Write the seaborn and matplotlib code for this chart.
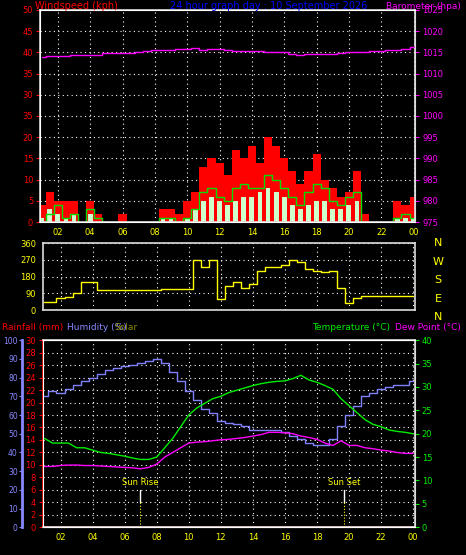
import numpy as np
import matplotlib
matplotlib.use("Agg")
import matplotlib.pyplot as plt
import seaborn as sns

# half-hour grid 1.0 .. 24.0
hours = np.arange(1.0, 24.01, 0.5)

gust = [4, 7, 5, 5, 5, 0, 5, 2, 0, 0, 2, 0, 0, 0, 0, 3, 3, 2, 5, 7, 13, 15, 14, 11,
        17, 15, 18, 14, 20, 18, 15, 12, 9, 12, 16, 10, 8, 6, 7, 12, 2, 0, 0, 0, 5, 4, 6]
speed = [1, 3, 2, 1, 2, 0, 2, 0, 0, 0, 0, 0, 0, 0, 0, 1, 1, 0, 1, 3, 5, 6, 5, 4,
         5, 6, 6, 7, 8, 7, 6, 4, 3, 4, 5, 5, 3, 3, 4, 5, 0, 0, 0, 0, 1, 1, 1]
avg_wind = [0, 2, 4, 1, 2, 0, 3, 1, 0, 0, 0, 0, 0, 0, 0, 1, 1, 0, 1, 3, 7, 8, 6, 5,
            8, 9, 8, 8, 11, 10, 8, 6, 4, 7, 9, 8, 5, 4, 6, 7, 0, 0, 0, 0, 1, 2, 1]
baro = [1014.0, 1014.1, 1014.2, 1014.2, 1014.3, 1014.3, 1014.3, 1014.5, 1014.8, 1014.8, 1014.8,
        1014.9, 1015.1, 1015.3, 1015.5, 1015.6, 1015.6, 1015.8, 1015.9, 1016.0, 1015.6, 1015.7,
        1015.7, 1015.6, 1015.4, 1015.4, 1015.4, 1015.3, 1015.2, 1015.1, 1015.0, 1014.7, 1014.5,
        1014.6, 1014.7, 1014.7, 1014.7, 1014.8, 1015.0, 1015.1, 1015.1, 1015.3, 1015.4, 1015.5,
        1015.5, 1015.8, 1016.2]
wind_dir = [45, 45, 65, 70, 90, 150, 150, 110, 110, 110, 110, 110, 110, 110, 110, 115, 115,
            115, 115, 270, 230, 270, 60, 130, 150, 120, 140, 210, 230, 230, 240, 270, 260,
            220, 210, 205, 210, 120, 40, 65, 75, 75, 75, 75, 75, 75, 75]
humidity = [70, 73, 72, 74, 76, 78, 80, 82, 84, 85, 86, 87, 88, 89, 90, 88, 83, 78, 73, 68,
            63, 61, 57, 56, 55, 54, 52, 52, 52, 52, 51, 49, 47, 45, 44, 44, 47, 54, 60, 65,
            70, 72, 74, 75, 76, 76, 78]
temperature = [19, 18, 18, 18, 17, 17, 16.5, 16, 15.8, 15.5, 15.2, 14.8, 14.5, 14.5, 15, 17,
               19, 21.5, 24, 25.5, 26.5, 27.5, 28, 28.8, 29.3, 29.8, 30.3, 30.7, 31, 31.2,
               31.3, 31.8, 32.5, 31.5, 31, 30.3, 29.5, 27.5, 26, 24.5, 23, 22, 21.5, 20.8,
               20.5, 20.3, 20]
dew_point = [13, 13, 13.2, 13.3, 13.3, 13.2, 13.2, 13.1, 13.0, 12.9, 12.8, 12.7, 12.5, 12.8,
             13.5, 15, 16, 17, 18, 18.2, 18.3, 18.5, 18.7, 18.8, 19, 19.2, 19.5, 19.8, 20.3,
             20.3, 20.2, 20, 19.5, 19.2, 18.8, 18, 17.5, 18.5, 17.5, 17.5, 17, 16.8, 16.5,
             16.3, 16, 15.8, 15.8]
rainfall = [0] * len(hours)
sunrise, sunset = 6.95, 19.7
xticks = list(range(2, 25, 2))
xlabels = [f"{h % 24:02d}" for h in xticks]

sns.set_style("dark")
plt.rcParams["font.family"] = ["DejaVu Sans"]
plt.rcParams["font.size"] = 6

fig = plt.figure(figsize=(4.66, 5.55), dpi=100, facecolor="black")


def style(ax):
    ax.set_facecolor("black")
    ax.set_xlim(0.9, 24.1)
    ax.grid(True, color="white", linestyle=(0, (1, 3)), linewidth=0.8)
    for s in ax.spines.values():
        s.set_color("#dddddd")
        s.set_linewidth(1.2)
    ax.set_xticks(xticks)
    ax.set_xticklabels(xlabels, color="yellow")
    ax.tick_params(axis="x", colors="white", labelcolor="yellow", length=2, pad=2)


# ---- wind / barometer panel
ax1 = fig.add_axes([0.086, 0.6, 0.805, 0.382])
style(ax1)
ax1.bar(hours, gust, width=0.5, color="red", align="center", linewidth=0)
ax1.bar(hours, speed, width=0.3, color="#ccffcc", align="center", linewidth=0)
sns.lineplot(x=hours, y=avg_wind, ax=ax1, color="#00dd00", linewidth=1, drawstyle="steps-mid")
ax1.set_ylim(0, 50)
ax1.set_yticks(range(0, 51, 5))
ax1.set_yticklabels(["0", "5", "10", "15", "20", "35", "30", "35", "40", "45", "50"])
ax1.tick_params(axis="y", colors="red", labelcolor="red", length=3, pad=2)
ax1.set_xlabel("")
ax1b = ax1.twinx()
sns.lineplot(x=hours, y=baro, ax=ax1b, color="magenta", linewidth=1, drawstyle="steps-mid")
ax1b.set_ylim(975, 1025)
ax1b.set_yticks(range(975, 1026, 5))
ax1b.tick_params(axis="y", colors="magenta", labelcolor="magenta", length=3, pad=2)
ax1b.spines["right"].set_color("#dddddd")
ax1b.grid(False)
fig.text(0.075, 0.989, "Windspeed (kph)", color="red", fontsize=7, ha="left", va="center")
fig.text(0.365, 0.989, "24 hour graph day : 10 September 2026", color="blue", fontsize=7,
         ha="left", va="center")
fig.text(0.99, 0.989, "Barometer (hpa)", color="magenta", fontsize=6.5, ha="right", va="center")

# ---- wind direction panel
ax2 = fig.add_axes([0.092, 0.441, 0.798, 0.121])
style(ax2)
sns.lineplot(x=hours, y=wind_dir, ax=ax2, color="yellow", linewidth=1, drawstyle="steps-mid")
ax2.set_ylim(0, 360)
ax2.set_yticks(range(0, 361, 90))
ax2.tick_params(axis="y", colors="white", labelcolor="yellow", length=3, pad=2)
ax2.tick_params(axis="x", labelbottom=False, length=0)
for i, d in enumerate(["N", "W", "S", "E", "N"]):
    fig.text(0.94, 0.562 - i * 0.0335, d, color="yellow", fontsize=8, ha="center", va="center")

# ---- temperature / humidity panel
ax3 = fig.add_axes([0.092, 0.05, 0.798, 0.337])
style(ax3)
ax3.set_ylim(0, 30)
ax3.set_yticks(range(0, 31, 2))
ax3.tick_params(axis="y", colors="red", labelcolor="red", length=3, pad=2)
ax3.plot(hours, rainfall, color="red", linewidth=2)
ax3.plot(hours, rainfall, color="yellow", linewidth=0.6)
ax3.spines["left"].set_color("red")

ax3h = ax3.twinx()
ax3h.spines["left"].set_position(("outward", 15))
ax3h.spines["left"].set_visible(True)
ax3h.spines["left"].set_color("#8888ff")
ax3h.spines["left"].set_linewidth(2)
ax3h.yaxis.set_ticks_position("left")
ax3h.yaxis.set_label_position("left")
sns.lineplot(x=hours, y=humidity, ax=ax3h, color="#8080ff", linewidth=1, drawstyle="steps-mid")
ax3h.set_ylim(0, 100)
ax3h.set_yticks(range(0, 101, 10))
ax3h.tick_params(axis="y", colors="#8888ff", labelcolor="#8888ff", length=2, pad=1,
                 labelsize=5.5)
ax3h.spines["right"].set_visible(False)
ax3h.grid(False)

ax3t = ax3.twinx()
sns.lineplot(x=hours, y=temperature, ax=ax3t, color="#00ee00", linewidth=1)
sns.lineplot(x=hours, y=dew_point, ax=ax3t, color="magenta", linewidth=1)
ax3t.set_ylim(0, 40)
ax3t.set_yticks(range(0, 41, 5))
ax3t.tick_params(axis="y", colors="#00ee00", labelcolor="#00ee00", length=3, pad=2)
ax3t.spines["right"].set_color("#dddddd")
ax3t.grid(False)
for a in (ax3h, ax3t):
    a.set_ylabel("")
    a.set_xlabel("")

for t, lab in ((sunrise, "Sun Rise"), (sunset, "Sun Set")):
    ax3.plot([t, t], [4, 6], color="white", linewidth=1)
    ax3.plot([t, t], [0, 4], color="yellow", linewidth=0.8, linestyle=":")
    ax3.text(t, 7.2, lab, color="yellow", fontsize=6, ha="center", va="center")

fig.text(0.004, 0.41, "Rainfall (mm)", color="red", fontsize=6.5, ha="left", va="center")
fig.text(0.143, 0.41, "Humidity (%)", color="#8888ff", fontsize=6.5, ha="left", va="center")
fig.text(0.245, 0.41, "Solar", color="#888800", fontsize=6.5, ha="left", va="center")
fig.text(0.67, 0.41, "Temperature (°C)", color="#00ee00", fontsize=6.5, ha="left", va="center")
fig.text(0.99, 0.41, "Dew Point (°C)", color="magenta", fontsize=6.5, ha="right", va="center")

fig.savefig("out.png", dpi=100, facecolor="black")
